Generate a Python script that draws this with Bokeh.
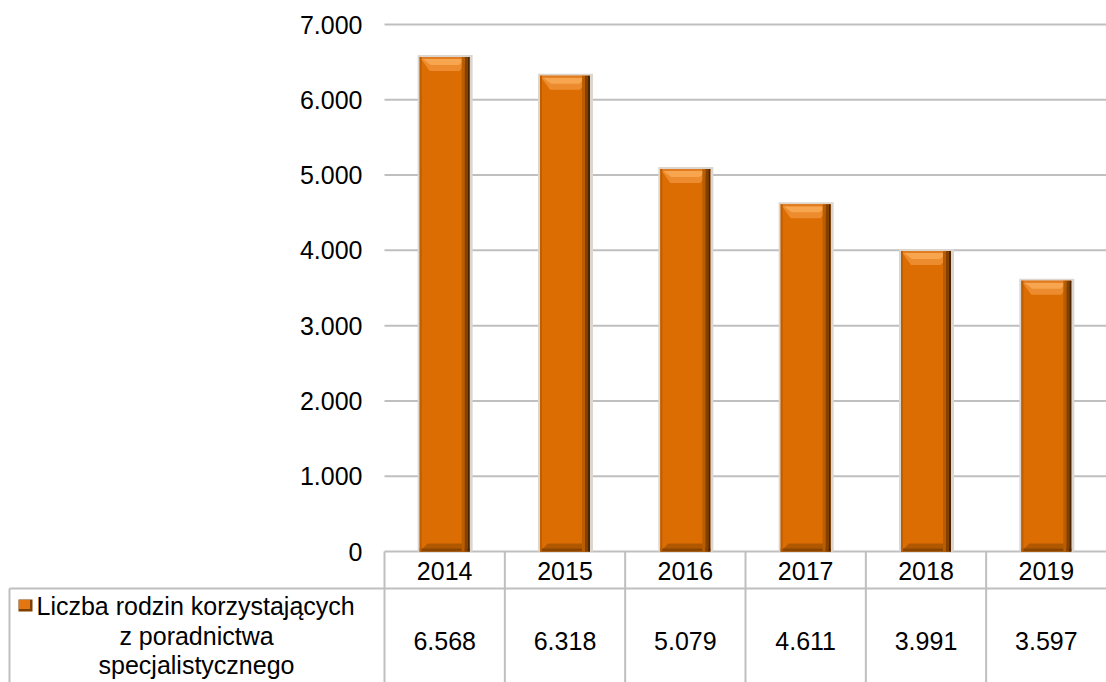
import numpy as np
from bokeh.plotting import figure
from bokeh.models import Range1d
from bokeh.core.properties import value
from bokeh.embed import file_html
from bokeh.resources import INLINE

# ---------------- data ----------------
years = ["2014", "2015", "2016", "2017", "2018", "2019"]
families = [6568, 6318, 5079, 4611, 3991, 3597]
series_lines = ["Liczba rodzin korzystających", "z poradnictwa", "specjalistycznego"]
y_ticks = [0, 1000, 2000, 3000, 4000, 5000, 6000, 7000]


def fmt(v):
    return f"{v:,}".replace(",", ".")


# ---------------- layout (figure pixels) ----------------
W, H = 1106, 682
FRAME_X0 = 384          # pixel where first category column starts
N = len(years)
COL_W = (W - FRAME_X0) / N
Y0_PX = 551             # pixel (from top) of value 0
YTOP_PX = 24            # pixel of top tick
K = (Y0_PX - YTOP_PX) / y_ticks[-1]   # px per unit


def dx(px):
    return px / COL_W


def dy(px):
    return px / K


def X(px):
    return (px - FRAME_X0) / COL_W


def Y(py):
    return (Y0_PX - py) / K


FONT = value("Liberation Sans")
FS = "25px"
GRID = "#BFBFBF"

p = figure(width=W, height=H,
           x_range=Range1d(X(0), X(W)), y_range=Range1d(Y(H), Y(0)),
           x_axis_type=None, y_axis_type=None,
           output_backend="svg", toolbar_location=None,
           min_border=0, min_border_left=0, min_border_right=0,
           min_border_top=0, min_border_bottom=0)
p.outline_line_color = None
p.background_fill_color = "white"
p.border_fill_color = "white"

xc = np.arange(N) + 0.5
vals = np.array(families, dtype=float)

# ---------------- gridlines ----------------
p.segment(x0=[0] * len(y_ticks), x1=[N] * len(y_ticks), y0=y_ticks, y1=y_ticks,
          line_color=GRID, line_width=2)

# y tick labels
p.text(x=[X(362)] * len(y_ticks), y=y_ticks, text=[fmt(t) for t in y_ticks],
       text_align="right", text_baseline="middle", text_font=FONT,
       text_font_size=FS, text_color="black")

# ---------------- data table ----------------
p.segment(x0=[X(9)], x1=[N], y0=[Y(588)], y1=[Y(588)], line_color=GRID, line_width=2)
p.segment(x0=list(range(N)), x1=list(range(N)), y0=[0] * N, y1=[Y(H + 5)] * N,
          line_color=GRID, line_width=2)
p.segment(x0=[X(9)], x1=[X(9)], y0=[Y(588)], y1=[Y(H + 5)], line_color=GRID, line_width=2)

p.text(x=xc, y=[Y(570)] * N, text=years, text_align="center", text_baseline="middle",
       text_font=FONT, text_font_size=FS, text_color="black")
p.text(x=xc, y=[Y(640)] * N, text=[fmt(v) for v in families], text_align="center",
       text_baseline="middle", text_font=FONT, text_font_size=FS, text_color="black")

# legend marker + series name
p.rect(x=[X(25)], y=[Y(605)], width=14, height=12, width_units="screen",
       height_units="screen", fill_color="#7E3F00", line_color=None)
p.rect(x=[X(24)], y=[Y(604)], width=11, height=9, width_units="screen",
       height_units="screen", fill_color="#E37512", line_color=None)
p.text(x=[X(36)], y=[Y(605)], text=[series_lines[0]], text_align="left",
       text_baseline="middle", text_font=FONT, text_font_size=FS, text_color="black")
p.text(x=[X(196)] * 2, y=[Y(635), Y(664)], text=series_lines[1:], text_align="center",
       text_baseline="middle", text_font=FONT, text_font_size=FS, text_color="black")

# ---------------- bars (bevelled look) ----------------
BW = dx(50)
L = xc - BW / 2
R = xc + BW / 2

# soft shadow
p.quad(left=L - dx(2), right=R + dx(3), bottom=0, top=vals + dy(2),
       fill_color="#DCD6D0", line_color=None)
# body
p.quad(left=L, right=R, bottom=0, top=vals, fill_color="#DC6D02", line_color=None)

# top bevel (trapezoid)
ins, hb = dx(10), dy(14)
p.patches(xs=[[l, r, r - ins, l + ins] for l, r in zip(L, R)],
          ys=[[t, t, t - hb, t - hb] for t in vals],
          fill_color="#EC8C2E", line_color=None)
ins2, hb2 = dx(11), dy(8)
p.patches(xs=[[l + dx(3), r - dx(3), r - ins2, l + ins2] for l, r in zip(L, R)],
          ys=[[t - dy(2), t - dy(2), t - hb2, t - hb2] for t in vals],
          fill_color="#F7A54E", line_color=None)
p.quad(left=L, right=R, bottom=vals - dy(2), top=vals, fill_color="#E27C22", line_color=None)

# bottom bevel
insb, hbb = dx(8), dy(8)
p.patches(xs=[[l, r, r - insb, l + insb] for l, r in zip(L, R)],
          ys=[[0, 0, hbb, hbb] for _ in vals],
          fill_color="#B05800", line_color=None)
p.quad(left=L, right=R, bottom=0, top=dy(3), fill_color="#8A4500", line_color=None)

# right shading
p.quad(left=R - dx(8), right=R - dx(5), bottom=0, top=vals, fill_color="#B95D00", line_color=None)
p.quad(left=R - dx(5), right=R - dx(2), bottom=0, top=vals, fill_color="#824100", line_color=None)
p.quad(left=R - dx(2), right=R, bottom=0, top=vals, fill_color="#4A2500", line_color=None)
# left edge
p.quad(left=L, right=L + dx(2), bottom=0, top=vals, fill_color="#BF5E00", line_color=None)

open("out.html", "w").write(file_html(p, INLINE))
